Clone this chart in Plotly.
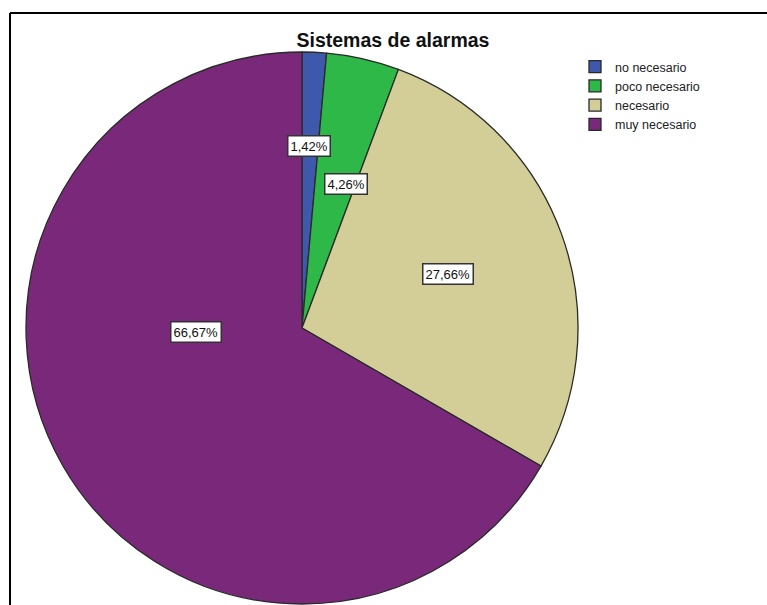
import math
import plotly.graph_objects as go

categories = ["no necesario", "poco necesario", "necesario", "muy necesario"]
values = [1.42, 4.26, 27.66, 66.67]
colors = ["#3E58AC", "#2EB848", "#D3CE97", "#7A287A"]
# label placement: (angle in degrees clockwise from top, fraction of radius)
label_pos = [(2.3, 0.66), (17.2, 0.545), (69.7, 0.565), (268.0, 0.385)]

W, H = 767, 605
cx, cy, R = 302, 328, 276

fig = go.Figure()
fig.add_trace(go.Pie(
    labels=categories, values=values, sort=False, direction="clockwise",
    rotation=0, marker=dict(colors=colors, line=dict(color="#2a2a2a", width=1.3)),
    textinfo="none", hoverinfo="label+percent",
    domain=dict(x=[(cx - R) / W, (cx + R) / W], y=[(H - cy - R) / H, (H - cy + R) / H]),
))

annotations = []
for v, (ang, frac) in zip(values, label_pos):
    a = math.radians(ang)
    px = cx + frac * R * math.sin(a)
    py = cy - frac * R * math.cos(a)
    annotations.append(dict(
        x=px / W, y=1 - py / H, xref="paper", yref="paper", showarrow=False,
        xanchor="center", yanchor="middle",
        text=f"{v:.2f}".replace(".", ",") + "%",
        font=dict(family="Liberation Sans, Arial", size=13, color="#111"),
        bgcolor="white", bordercolor="#333", borderwidth=1.5, borderpad=2,
    ))

shapes = [
    dict(type="line", xref="paper", yref="paper", x0=10 / W, x1=1.0, y0=1 - 13 / H, y1=1 - 13 / H,
         line=dict(color="black", width=2)),
    dict(type="line", xref="paper", yref="paper", x0=10 / W, x1=10 / W, y0=0, y1=1 - 13 / H,
         line=dict(color="black", width=2)),
]

fig.update_layout(
    width=W, height=H, margin=dict(l=0, r=0, t=0, b=0),
    paper_bgcolor="white", plot_bgcolor="white",
    title=dict(text="<b>Sistemas de alarmas</b>", x=393 / W, xanchor="center",
               y=1 - 40 / H, yanchor="middle",
               font=dict(family="Liberation Sans, Arial", size=19.5, color="#111")),
    legend=dict(x=575 / W, y=1 - 52 / H, xanchor="left", yanchor="top",
                font=dict(family="Liberation Sans, Arial", size=12.5, color="#222"),
                tracegroupgap=0, itemwidth=30),
    annotations=annotations, shapes=shapes,
)

fig.write_html("out.html", config={"displayModeBar": False},
               post_script="document.body.style.margin='0';document.body.style.overflow='hidden';")
